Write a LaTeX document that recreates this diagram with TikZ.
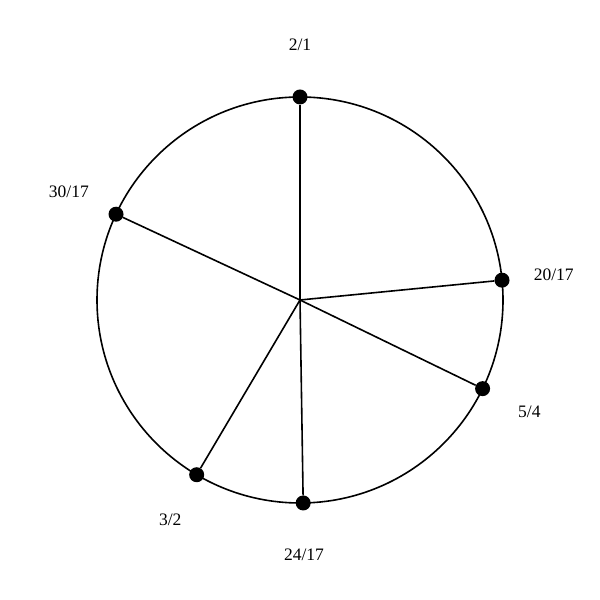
\documentclass[tikz,border=0pt]{standalone}
\usepackage{fontspec}
\setmainfont{Liberation Serif}
\usetikzlibrary{calc}
\begin{document}
\begin{tikzpicture}[x=1bp,y=1bp,
  spoke/.style={line width=1.6bp},
  dot/.style={circle,fill=black,inner sep=0pt,minimum size=15bp},
  lbl/.style={font=\fontsize{17.5bp}{20bp}\selectfont}]
\useasboundingbox (0,0) rectangle (600,600);
\coordinate (c) at (300,300);
\draw[spoke] (c) circle (203);
\foreach \name/\ang/\txt in {a/90/2\slash1, b/5.6/20\slash17, c5/-25.9/5\slash4, d/-89.1/24\slash17, e/239.4/3\slash2, f/155/30\slash17}{
  \node[dot] (p\name) at ($(c)+(\ang:203)$) {};
  \draw[spoke] (c) -- (p\name);
  \node[lbl] (l\name) at ($(c)+(\ang:255)$) {\txt};
}
\end{tikzpicture}
\end{document}
